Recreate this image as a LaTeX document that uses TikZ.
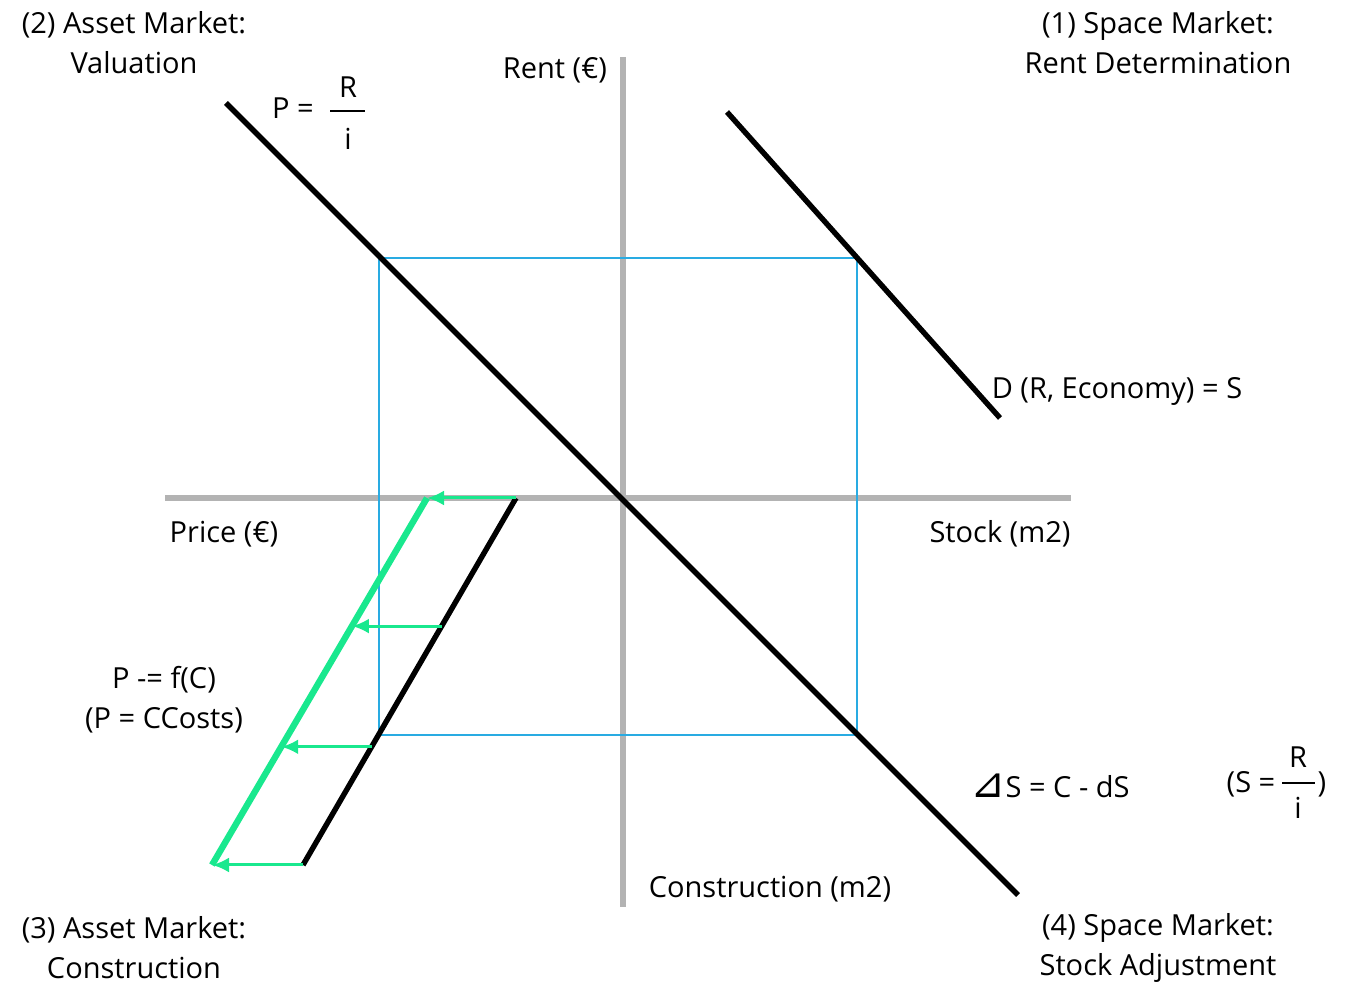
\documentclass[tikz,border=0pt]{standalone}
\usepackage{fontspec}
\setmainfont{Open Sans}
\newfontfamily\symfont{DejaVu Sans}
\usetikzlibrary{arrows.meta,positioning,calc}

\definecolor{axisgray}{RGB}{179,179,179}
\definecolor{boxblue}{RGB}{41,171,226}
\definecolor{shiftgreen}{RGB}{25,232,142}

\begin{document}
\begin{tikzpicture}[
    x=0.5pt, y=-0.5pt,
    >={Latex[length=8.5pt,width=7.5pt]},
    every node/.style={align=center, inner sep=0pt, font=\fontsize{14.5}{20}\selectfont}
]

% Define styles
\tikzstyle{axis} = [draw=axisgray, line width=3pt]
\tikzstyle{curve} = [draw=black, line width=2.7pt]
\tikzstyle{newcurve} = [draw=shiftgreen, line width=3.2pt]
\tikzstyle{shiftarrow} = [draw=shiftgreen, line width=1.5pt, ->]
\tikzstyle{frame} = [draw=boxblue, line width=0.8pt]
\tikzstyle{fracbar} = [draw=black, line width=0.6pt]

\useasboundingbox (0,0) rectangle (1351,983);

% Axes
\coordinate (xLeft) at (165,498);
\coordinate (xRight) at (1071,498);
\coordinate (yTop) at (623,57);
\coordinate (yBottom) at (623,907);
\path [axis] (xLeft) -- (xRight);
\path [axis] (yTop) -- (yBottom);

% Equilibrium box
\coordinate (boxNW) at (379,258);
\coordinate (boxSE) at (857,735);
\path [frame] (boxNW) rectangle (boxSE);

% Curves
\coordinate (valTop) at (226,103);
\coordinate (valBottom) at (1018,895);
\coordinate (demTop) at (727,112);
\coordinate (demBottom) at (1000,418);
\coordinate (conTop) at (516,498);
\coordinate (conBottom) at (303,865);
\coordinate (newTop) at (427,498);
\coordinate (newBottom) at (212,865);
\path [curve] (valTop) -- (valBottom);
\path [curve] (demTop) -- (demBottom);
\path [curve] (conTop) -- (conBottom);
\path [newcurve] (newTop) -- (newBottom);

% Shift arrows
\coordinate (conA) at ($(conTop)!0.349!(conBottom)$);
\coordinate (newA) at ($(newTop)!0.349!(newBottom)$);
\coordinate (conB) at ($(conTop)!0.678!(conBottom)$);
\coordinate (newB) at ($(newTop)!0.678!(newBottom)$);
\path [shiftarrow] (conTop) -- (newTop);
\path [shiftarrow] (conA) -- (newA);
\path [shiftarrow] (conB) -- (newB);
\path [shiftarrow] (conBottom) -- (newBottom);

% Quadrant titles
\node (q2) at (134,43) {(2) Asset Market:\\Valuation};
\node (q1) at (1158,43) {(1) Space Market:\\Rent Determination};
\node (q3) at (134,948) {(3) Asset Market:\\Construction};
\node (q4) at (1158,948) {(4) Space Market:\\Stock Adjustment};

% Axis labels
\node (rent) at (555,70) {Rent (€)};
\node (price) at (224,534) {Price (€)};
\node (stock) at (1000,534) {Stock (m2)};
\node (constr) at (770,889) {Construction (m2)};

% Formulas
\node (peq) at (293,108) {P =};
\node (pR) at (348,87) {R};
\node (pi) at (348,139) {i};
\coordinate (pBarL) at (330,111);
\coordinate (pBarR) at (365,111);
\path [fracbar] (pBarL) -- (pBarR);

\node (demand) at (1117,391) {D (R, Economy) = S};
\node (cost) at (164,700) {P -= f(C)\\(P = CCosts)};
\node (dstock) at (1050,786) {{\symfont\fontsize{21}{20}\selectfont\char"22BF}S = C - dS};

\node (seq) at (1251,784) {(S =};
\node (sR) at (1298,757) {R};
\node (si) at (1298,808) {i};
\node (sclose) at (1322,784) {)};
\coordinate (sBarL) at (1282,783);
\coordinate (sBarR) at (1315,783);
\path [fracbar] (sBarL) -- (sBarR);

\end{tikzpicture}
\end{document}
